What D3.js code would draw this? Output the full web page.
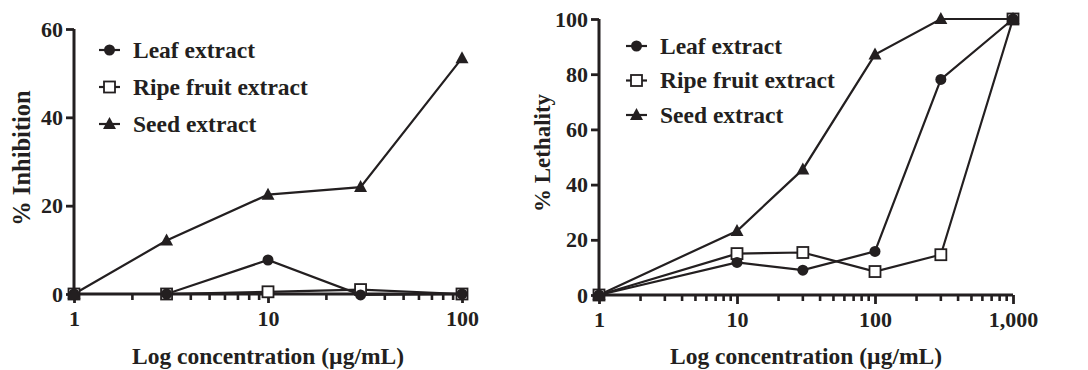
<!DOCTYPE html>
<html>
<head>
<meta charset="utf-8">
<script src="https://cdn.jsdelivr.net/npm/d3@7"></script>
<style>
  body { margin: 0; background: #fff; }
  svg { display: block; }
  text { font-family: "Liberation Serif", "Times New Roman", serif; font-weight: bold; fill: #231f20; }
</style>
</head>
<body>
<div id="chart"></div>
<script>
// left panel: % inhibition
const inhConc = [1, 3, 10, 30, 100];
const inhLeaf = [0, 0, 7.7, -0.2, 0];
const inhRipe = [0, 0, 0.5, 1.0, 0];
const inhSeed = [0, 12.1, 22.5, 24.2, 53.4];
const inhYTicks = [0, 20, 40, 60];
const inhXTicks = [1, 10, 100];

// right panel: % lethality
const letConc = [1, 10, 30, 100, 300, 1000];
const letLeaf = [0, 11.8, 9.0, 15.8, 78.1, 100];
const letRipe = [0, 15.0, 15.4, 8.5, 14.6, 100];
const letSeed = [0, 23.2, 45.5, 87.1, 100, 100];
const letYTicks = [0, 20, 40, 60, 80, 100];
const letXTicks = [1, 10, 100, 1000];

const seriesNames = ["Leaf extract", "Ripe fruit extract", "Seed extract"];
const markers = ["circle", "square", "triangle"];

const ink = "#231f20";
const svg = d3.select("#chart").append("svg")
  .attr("width", 1088).attr("height", 370);

function drawMarker(g, type, cx, cy) {
  if (type === "circle") {
    g.append("circle").attr("cx", cx).attr("cy", cy).attr("r", 5.5).attr("fill", ink);
  } else if (type === "square") {
    g.append("rect").attr("x", cx - 5.5).attr("y", cy - 5.5).attr("width", 11).attr("height", 11)
      .attr("fill", "#fff").attr("stroke", ink).attr("stroke-width", 1.8);
  } else {
    g.append("path").attr("transform", `translate(${cx},${cy})`)
      .attr("d", "M0,-7L6.5,5L-6.5,5Z").attr("fill", ink);
  }
}

function panel(opts) {
  const g = svg.append("g");
  const x = d3.scaleLog().domain(opts.xDomain).range(opts.xRange);
  const y = d3.scaleLinear().domain(opts.yDomain).range(opts.yRange);
  const y0 = opts.yRange[0];

  // minor x ticks
  const minors = [];
  for (let dec = opts.xDomain[0]; dec < opts.xDomain[1]; dec *= 10) {
    for (let k = 2; k <= 9; k++) minors.push(dec * k);
  }
  g.append("g").selectAll("line").data(minors).join("line")
    .attr("x1", d => x(d)).attr("x2", d => x(d))
    .attr("y1", y0).attr("y2", y0 + 6)
    .attr("stroke", ink).attr("stroke-width", 2.6);

  // x axis
  const xa = g.append("g").attr("transform", `translate(0,${y0})`)
    .call(d3.axisBottom(x).tickValues(opts.xTicks).tickSize(9).tickPadding(7)
      .tickFormat(d3.format(",")));
  xa.select(".domain").attr("stroke", ink).attr("stroke-width", 3)
    .attr("d", `M${opts.xRange[0]},0H${opts.xRange[1]}`);
  xa.selectAll(".tick line").attr("stroke", ink).attr("stroke-width", 2.8);
  xa.selectAll("text").style("font-size", "22px").attr("fill", ink);

  // y axis
  const ya = g.append("g").attr("transform", `translate(${opts.xRange[0]},0)`)
    .call(d3.axisLeft(y).tickValues(opts.yTicks).tickSize(8).tickPadding(3));
  ya.select(".domain").attr("stroke", ink).attr("stroke-width", 3)
    .attr("d", `M0,${y0}V${opts.yRange[1]}`);
  ya.selectAll(".tick line").attr("stroke", ink).attr("stroke-width", 2.8);
  ya.selectAll("text").style("font-size", "22px").attr("fill", ink);

  // titles
  g.append("text").attr("x", (opts.xRange[0] + opts.xRange[1]) / 2).attr("y", 364)
    .attr("text-anchor", "middle").style("font-size", "23.5px").text("Log concentration (µg/mL)");
  g.append("text").attr("transform", `translate(${opts.yTitleX},${opts.yTitleY}) rotate(-90)`)
    .attr("text-anchor", "middle").style("font-size", opts.yTitleSize).text(opts.yTitle);

  // lines and markers
  const line = d3.line().x(d => x(d[0])).y(d => y(d[1]));
  const order = [1, 0, 2];
  order.forEach(i => {
    const pts = opts.conc.map((c, j) => [c, opts.series[i][j]]);
    g.append("path").attr("d", line(pts)).attr("fill", "none")
      .attr("stroke", ink).attr("stroke-width", 2.2);
  });
  order.forEach(i => {
    opts.conc.forEach((c, j) => drawMarker(g, markers[i], x(c), y(opts.series[i][j])));
  });

  // legend
  seriesNames.forEach((name, i) => {
    const ly = opts.legY + i * opts.legStep;
    g.append("line").attr("x1", opts.legX).attr("x2", opts.legX + 21)
      .attr("y1", ly).attr("y2", ly).attr("stroke", ink).attr("stroke-width", 2.2);
    drawMarker(g, markers[i], opts.legX + 10.5, ly);
    g.append("text").attr("x", opts.legX + 34).attr("y", ly).attr("dy", "0.33em")
      .style("font-size", "23.5px").text(name);
  });
}

panel({
  xDomain: [1, 100], xRange: [74, 462], yDomain: [0, 60], yRange: [294, 29],
  xTicks: inhXTicks, yTicks: inhYTicks, conc: inhConc,
  series: [inhLeaf, inhRipe, inhSeed],
  yTitle: "% Inhibition", yTitleX: 30, yTitleY: 158, yTitleSize: "24.5px",
  legX: 99, legY: 50, legStep: 37
});

panel({
  xDomain: [1, 1000], xRange: [599, 1013], yDomain: [0, 100], yRange: [295, 19],
  xTicks: letXTicks, yTicks: letYTicks, conc: letConc,
  series: [letLeaf, letRipe, letSeed],
  yTitle: "% Lethality", yTitleX: 550, yTitleY: 153, yTitleSize: "23px",
  legX: 626, legY: 46, legStep: 34.5
});
</script>
</body>
</html>
